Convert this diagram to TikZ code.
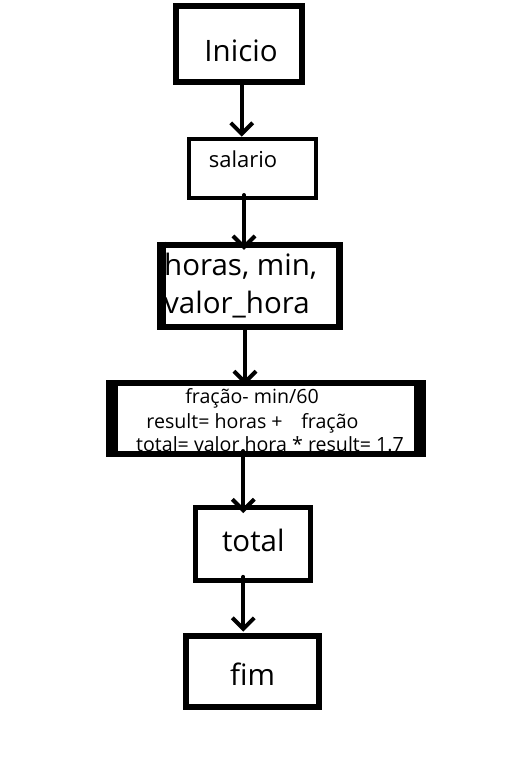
\documentclass[tikz,border=0pt]{standalone}
\usepackage{fontspec}
\setmainfont{Open Sans}
\usetikzlibrary{arrows.meta}
\begin{document}
\begin{tikzpicture}[x=1pt,y=-1pt,
  box/.style={draw, rectangle, inner sep=0pt, outer sep=0pt},
  conn/.style={line width=4pt, line cap=round, -{Straight Barb[length=11pt,width=22pt]}},
  big/.style={font=\fontsize{29.5}{35}\selectfont, inner sep=0pt, anchor=base},
  mid/.style={font=\fontsize{22}{26}\selectfont, inner sep=0pt, anchor=base},
  small/.style={font=\fontsize{19.6}{23}\selectfont, inner sep=0pt, anchor=base}]
\useasboundingbox (0,0) rectangle (506,760);
% Inicio
\node[box, line width=5.7pt, minimum width=126pt, minimum height=76pt] (inicio) at (239,44) {};
\node[big] (tinicio) at (241,61.7) {Inicio};
% salario
\node[box, line width=4.7pt, minimum width=127pt, minimum height=59pt] (salario) at (252.5,168.5) {};
\node[mid] (tsalario) at (243,167) {salario};
% horas
\node[box, line width=6.5pt, minimum width=178pt, minimum height=82pt] (horas) at (250.6,285.8) {};
\draw[line width=8.7pt] ([yshift=3.25pt]horas.north west) -- ([yshift=-3.25pt]horas.south west);
\node[big, anchor=base west] (th1) at (164,275) {horas, min,};
\node[big, anchor=base west] (th2) at (164,313.3) {valor\_hora};
% fracao
\node[box, line width=6pt, minimum width=308pt, minimum height=71pt] (fr) at (266,418.5) {};
\draw[line width=12.5pt] ([yshift=3pt]fr.north west) -- ([yshift=-3pt]fr.south west);
\draw[line width=12.5pt] ([yshift=3pt]fr.north east) -- ([yshift=-3pt]fr.south east);
\node[small] (tf1) at (252,403.3) {fração- min/60};
\node[small] (tf2) at (252.5,428.3) {result= horas +\hspace{0.95em}fração};
\node[small] (tf3) at (270,451.7) {total= valor hora * result= 1.7};
% total
\node[box, line width=5pt, minimum width=115pt, minimum height=73.3pt] (total) at (252.7,544.2) {};
\node[big] (ttotal) at (253.3,551.7) {total};
% fim
\node[box, line width=6pt, minimum width=132.4pt, minimum height=71.3pt] (fim) at (252.5,671.3) {};
\node[big] (tfim) at (252.5,685) {fim};
% connectors
\draw[conn, shorten >=2.3pt] ([xshift=2.7pt]inicio.south) -- ([xshift=2.7pt]inicio.south |- salario.north);
\draw[conn, shorten <=-3pt, shorten >=-5pt] ([xshift=-8.5pt]salario.south) -- ([xshift=-8.5pt]salario.south |- horas.north);
\draw[conn, shorten >=-2pt] ([xshift=-5.6pt]horas.south) -- ([xshift=-5.6pt]horas.south |- fr.north);
\draw[conn, shorten <=-3pt, shorten >=-5.5pt] ([xshift=-22.7pt]fr.south) -- ([xshift=-22.7pt]fr.south |- total.north);
\draw[conn, shorten <=-4pt, shorten >=4pt] ([xshift=-9.4pt]total.south) -- ([xshift=-9.4pt]total.south |- fim.north);
\end{tikzpicture}
\end{document}
